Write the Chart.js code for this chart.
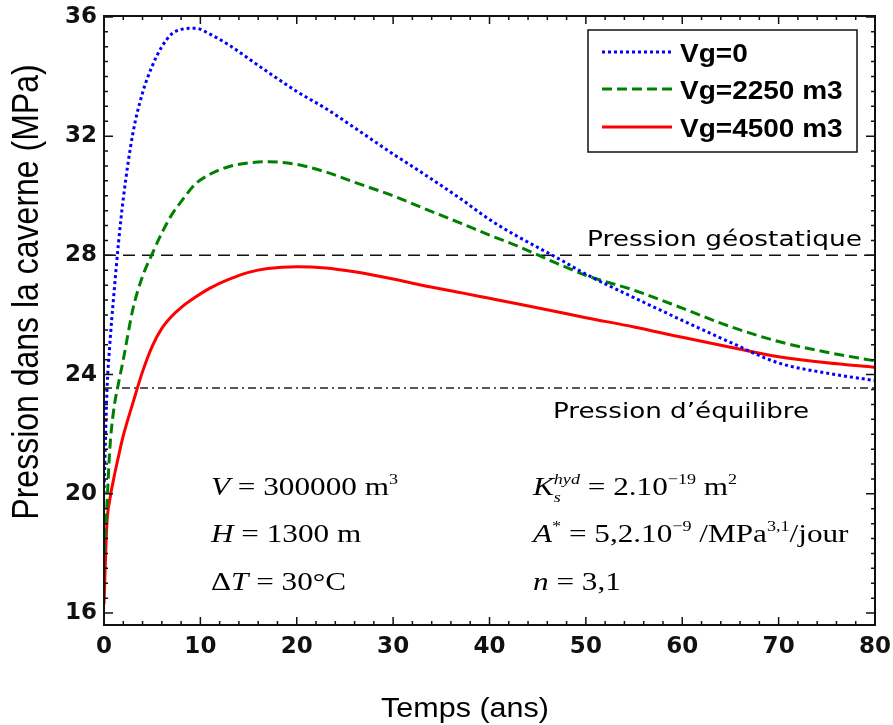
<!DOCTYPE html>
<html lang="fr">
<head>
<meta charset="UTF-8">
<title>Pression dans la caverne</title>
<style>
    body {
        margin: 0;
        background: #ffffff;
    }
    .wrap {
        width: 893px;
        height: 725px;
    }
</style>
<script src="https://cdn.jsdelivr.net/npm/chart.js"></script>
</head>
<body>
<div class="wrap"><canvas id="chart" width="893" height="725"></canvas></div>
<script>
// temps (ans) et pressions (MPa)
const times = [0, 0.3, 0.6, 1, 1.5, 2, 3, 4, 5, 6, 7, 8, 9.5, 11, 13, 15, 17, 20, 23, 26, 30, 33, 37, 40, 43, 47, 50, 55, 60, 65, 70, 75, 80];
const vg0 = [20.0, 23.4, 25.0, 26.6, 28.4, 29.9, 32.1, 33.45, 34.35, 35.0, 35.42, 35.58, 35.62, 35.42, 35.05, 34.6, 34.15, 33.5, 32.93, 32.28, 31.4, 30.77, 29.9, 29.2, 28.62, 27.92, 27.37, 26.58, 25.82, 25.08, 24.39, 24.05, 23.8];
const vg2250 = [18.0, 19.6, 21.5, 22.8, 23.7, 24.5, 26.2, 27.3, 28.05, 28.75, 29.35, 29.8, 30.4, 30.72, 30.98, 31.1, 31.14, 31.05, 30.8, 30.45, 30.0, 29.6, 29.08, 28.68, 28.3, 27.73, 27.33, 26.83, 26.23, 25.61, 25.11, 24.75, 24.46];
const vg4500 = [16.3, 19.0, 19.8, 20.5, 21.25, 21.95, 23.05, 24.1, 24.95, 25.55, 25.95, 26.25, 26.6, 26.9, 27.2, 27.43, 27.56, 27.62, 27.58, 27.45, 27.21, 27.0, 26.75, 26.56, 26.37, 26.11, 25.91, 25.6, 25.25, 24.92, 24.6, 24.4, 24.25];
const seriesLabels = ['Vg=0', 'Vg=2250 m3', 'Vg=4500 m3'];

// pressions de référence
const geoPressure = 28;
const eqPressure = 23.55;
const refSpan = [0, 80];

// graduations
const xTicks = [0, 10, 20, 30, 40, 50, 60, 70, 80];
const yTicks = [16, 20, 24, 28, 32, 36];

const toPoints = vals => vals.map((v, i) => ({ x: times[i], y: v }));
const flat = v => refSpan.map(t => ({ x: t, y: v }));

// texte étiré horizontalement (la figure d'origine est élargie)
function stretchText(ctx, str, x, y, font, sx, align) {
    ctx.save();
    ctx.font = font;
    ctx.translate(x, y);
    ctx.scale(sx, 1);
    ctx.textAlign = align || 'left';
    ctx.textBaseline = 'alphabetic';
    ctx.fillText(str, 0, 0);
    ctx.restore();
}

// texte "mathématique" avec indices / exposants
function richText(ctx, parts, x, y, size, sx) {
    ctx.save();
    ctx.translate(x, y);
    ctx.scale(sx, 1);
    ctx.textBaseline = 'alphabetic';
    ctx.textAlign = 'left';
    let cx = 0, prevStart = 0, prevEnd = 0;
    parts.forEach(p => {
        const s = (p.sup || p.sub) ? size * 0.58 : size;
        ctx.font = (p.i ? 'italic ' : '') + s + 'px "Liberation Serif"';
        const dy = p.sup ? -size * 0.42 : (p.sub ? size * 0.25 : 0);
        const start = p.over ? prevStart : cx;
        ctx.fillText(p.t, start, dy);
        const end = start + ctx.measureText(p.t).width;
        cx = p.over ? Math.max(prevEnd, end) : end;
        prevStart = start;
        prevEnd = end;
    });
    ctx.restore();
}

const decor = {
    id: 'decor',
    afterDraw(chart) {
        const { ctx, chartArea: a, scales: { x, y } } = chart;
        ctx.save();
        ctx.fillStyle = '#000';
        ctx.strokeStyle = '#111';

        // cadre
        ctx.lineWidth = 2;
        ctx.strokeRect(a.left, a.top, a.right - a.left, a.bottom - a.top);

        // graduations vers l'intérieur sur les 4 côtés
        ctx.lineWidth = 1.5;
        ctx.beginPath();
        for (let k = 0; k <= 40; k++) {
            const px = x.getPixelForValue(k * 2);
            const len = k % 5 === 0 ? 8 : 4;
            ctx.moveTo(px, a.bottom); ctx.lineTo(px, a.bottom - len);
            ctx.moveTo(px, a.top); ctx.lineTo(px, a.top + len);
        }
        for (let k = 0; k <= 40; k++) {
            const v = 16 + k * 0.5;
            const py = y.getPixelForValue(v);
            const len = k % 8 === 0 ? 9 : 4;
            ctx.moveTo(a.left, py); ctx.lineTo(a.left + len, py);
            ctx.moveTo(a.right, py); ctx.lineTo(a.right - len, py);
        }
        ctx.stroke();

        // titres des axes
        ctx.save();
        ctx.translate(38, 292);
        ctx.scale(1.17, 1);
        ctx.rotate(-Math.PI / 2);
        ctx.font = '32px "Liberation Sans"';
        ctx.textAlign = 'center';
        ctx.fillText('Pression dans la caverne (MPa)', 0, 0);
        ctx.restore();
        stretchText(ctx, 'Temps (ans)', 465, 717, '27px "Liberation Sans"', 1.13, 'center');

        // étiquettes des pressions de référence
        stretchText(ctx, 'Pression géostatique', a.right - 13, y.getPixelForValue(geoPressure) - 9, '22px "DejaVu Sans"', 1.2, 'right');
        stretchText(ctx, 'Pression d’équilibre', 553, y.getPixelForValue(eqPressure) + 30, '22px "DejaVu Sans"', 1.19, 'left');

        // paramètres
        const size = 26, sx = 1.2;
        richText(ctx, [{ t: 'V', i: 1 }, { t: ' = 300000 m' }, { t: '3', sup: 1 }], 211, 495, size, sx);
        richText(ctx, [{ t: 'H', i: 1 }, { t: ' = 1300 m' }], 211, 542, size, sx);
        richText(ctx, [{ t: 'Δ' }, { t: 'T', i: 1 }, { t: ' = 30°C' }], 211, 590, size, sx);
        richText(ctx, [{ t: 'K', i: 1 }, { t: 's', i: 1, sub: 1 }, { t: 'hyd', i: 1, sup: 1, over: 1 }, { t: ' = 2.10' }, { t: '−19', sup: 1 }, { t: ' m' }, { t: '2', sup: 1 }], 533, 495, size, sx);
        richText(ctx, [{ t: 'A', i: 1 }, { t: '*', sup: 1 }, { t: ' = 5,2.10' }, { t: '−9', sup: 1 }, { t: ' /MPa' }, { t: '3,1', sup: 1 }, { t: '/jour' }], 533, 542, size, sx);
        richText(ctx, [{ t: 'n', i: 1 }, { t: ' = 3,1' }], 533, 590, size, sx);

        // légende encadrée
        ctx.fillStyle = '#fff';
        ctx.fillRect(588, 30, 269, 122);
        ctx.lineWidth = 1.5;
        ctx.strokeStyle = '#111';
        ctx.strokeRect(588, 30, 269, 122);
        const rows = [52, 89, 127];
        chart.data.datasets.slice(0, 3).forEach((ds, i) => {
            ctx.save();
            ctx.strokeStyle = ds.borderColor;
            ctx.lineWidth = ds.borderWidth;
            ctx.setLineDash(ds.borderDash || []);
            ctx.beginPath();
            ctx.moveTo(602, rows[i]);
            ctx.lineTo(672, rows[i]);
            ctx.stroke();
            ctx.restore();
            ctx.fillStyle = '#000';
            stretchText(ctx, ds.label, 680, rows[i] + 10, 'bold 25px "Liberation Sans"', 1.12, 'left');
        });
        ctx.restore();
    }
};

new Chart(document.getElementById('chart'), {
    type: 'line',
    data: {
        datasets: [
            { label: seriesLabels[0], data: toPoints(vg0), borderColor: '#0000ff', borderWidth: 3, borderDash: [3, 3], borderCapStyle: 'butt' },
            { label: seriesLabels[1], data: toPoints(vg2250), borderColor: '#008000', borderWidth: 3, borderDash: [10, 5], borderCapStyle: 'butt' },
            { label: seriesLabels[2], data: toPoints(vg4500), borderColor: '#ff0000', borderWidth: 3 },
            { label: 'Pression géostatique', data: flat(geoPressure), borderColor: '#111', borderWidth: 1.5, borderDash: [12, 7] },
            { label: 'Pression d’équilibre', data: flat(eqPressure), borderColor: '#222', borderWidth: 1.3, borderDash: [8, 4, 2, 4] }
        ]
    },
    options: {
        responsive: false,
        animation: false,
        layout: { padding: { top: 16, right: 18, left: 0, bottom: 0 } },
        elements: {
            point: { radius: 0 },
            line: { cubicInterpolationMode: 'monotone', fill: false }
        },
        scales: {
            x: {
                type: 'linear',
                min: 0,
                max: 80,
                afterBuildTicks: s => { s.ticks = xTicks.map(v => ({ value: v })); },
                afterFit: s => { s.height = 100; s.paddingLeft = 0; s.paddingRight = 0; },
                grid: { display: false, drawTicks: false },
                border: { display: false },
                ticks: { font: { family: 'DejaVu Sans', size: 23, weight: 'bold' }, color: '#111', padding: 8, maxRotation: 0, autoSkip: false }
            },
            y: {
                type: 'linear',
                min: 15.6,
                max: 36.03,
                afterBuildTicks: s => { s.ticks = yTicks.map(v => ({ value: v })); },
                afterFit: s => { s.width = 104; s.paddingTop = 0; s.paddingBottom = 0; },
                grid: { display: false, drawTicks: false },
                border: { display: false },
                ticks: { font: { family: 'DejaVu Sans', size: 23, weight: 'bold' }, color: '#111', padding: 7, autoSkip: false }
            }
        },
        plugins: {
            legend: { display: false },
            tooltip: { enabled: false }
        }
    },
    plugins: [decor]
});
</script>
</body>
</html>
